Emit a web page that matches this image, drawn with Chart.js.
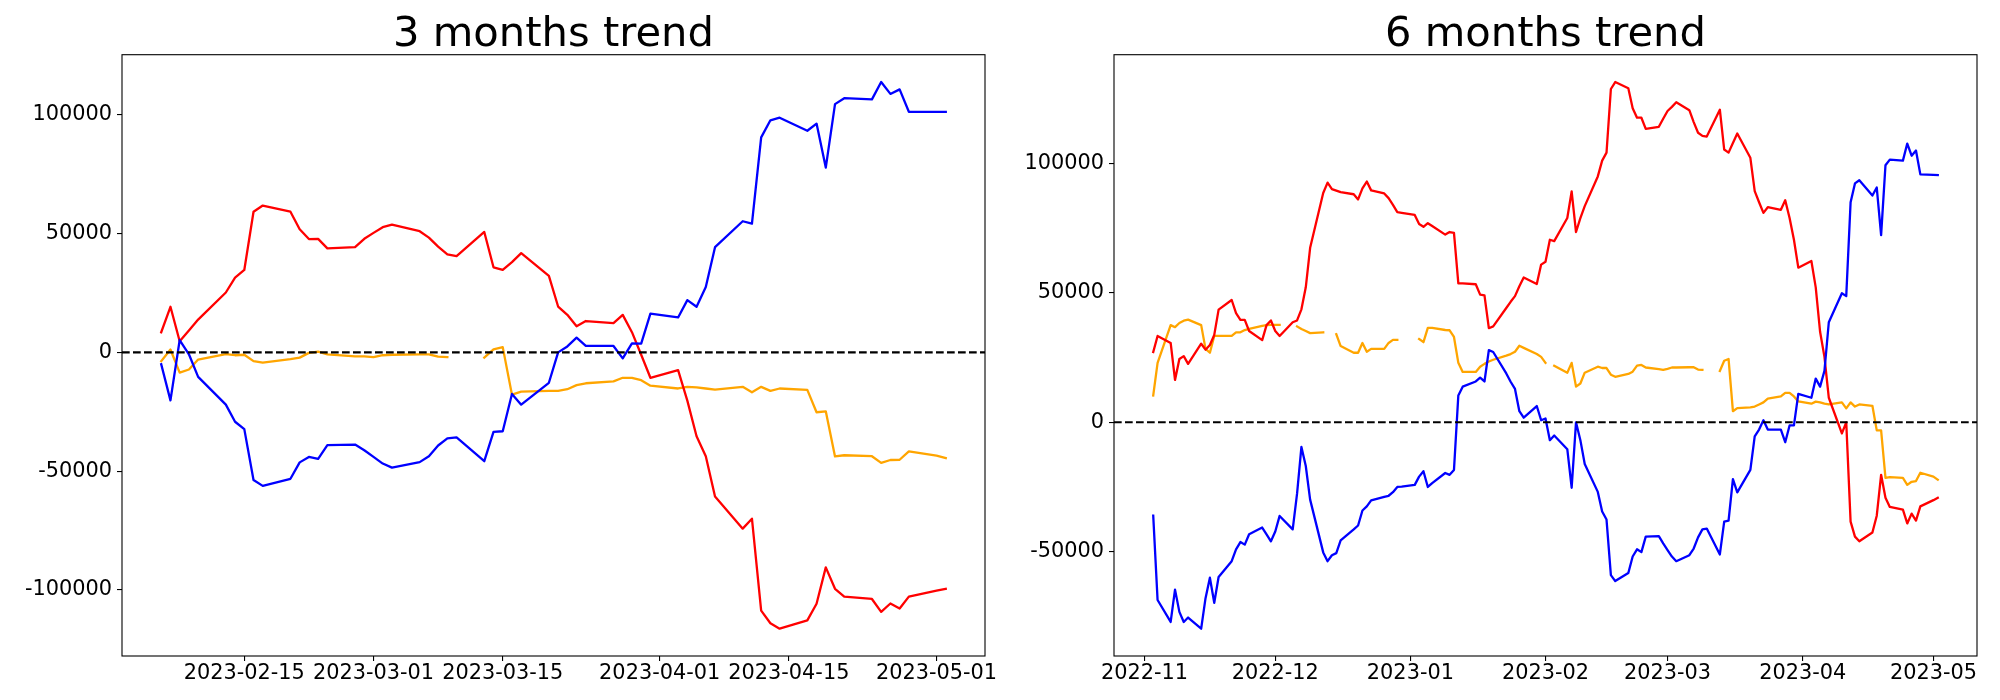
<!DOCTYPE html>
<html><head><meta charset="utf-8">
<script src="https://cdn.jsdelivr.net/npm/chart.js@4"></script>
<style>
html,body{margin:0;padding:0;background:#fff;}
#wrap{position:relative;width:2000px;height:700px;background:#fff;}
canvas{position:absolute;top:0;}
</style></head><body>
<div id="wrap"><canvas id="c1" width="1000" height="700" style="left:0px"></canvas><canvas id="c2" width="1000" height="700" style="left:1000px"></canvas></div>
<script>
// ---------- 3 months ----------
const dates3 = [
'2023-02-06','2023-02-07','2023-02-08','2023-02-09','2023-02-10','2023-02-13','2023-02-14','2023-02-15','2023-02-16','2023-02-17','2023-02-20','2023-02-21','2023-02-22','2023-02-23','2023-02-24','2023-02-27','2023-02-28',
'2023-03-01','2023-03-02','2023-03-03','2023-03-06','2023-03-07','2023-03-08','2023-03-09','2023-03-10','2023-03-13','2023-03-14','2023-03-15','2023-03-16','2023-03-17','2023-03-20','2023-03-21','2023-03-22','2023-03-23','2023-03-24','2023-03-27','2023-03-28','2023-03-29','2023-03-30','2023-03-31',
'2023-04-03','2023-04-04','2023-04-05','2023-04-06','2023-04-07','2023-04-10','2023-04-11','2023-04-12','2023-04-13','2023-04-14','2023-04-17','2023-04-18','2023-04-19','2023-04-20','2023-04-21','2023-04-24','2023-04-25','2023-04-26','2023-04-27','2023-04-28',
'2023-05-01','2023-05-02'];
const red3 = [
8500,19200,4700,9200,13800,25200,31500,34700,59200,61800,59200,51800,47700,47800,43800,44300,47800,
50300,52700,53800,51000,48300,44500,41300,40500,50700,35800,34700,38000,41800,32200,19300,15800,11000,13200,12300,15800,8500,-1000,-10700,
-7500,-20300,-35300,-43700,-60700,-74200,-70000,-108700,-114000,-116300,-112800,-105800,-90500,-99500,-102800,-103800,-109200,-105700,-107800,-102800,
-100300,-99500];
const blue3 = [
-5000,-20200,5200,-800,-10300,-22000,-29200,-32300,-53700,-56200,-53200,-46300,-44000,-44800,-39000,-38800,-41200,
-44000,-46800,-48500,-46200,-43700,-39200,-36200,-35800,-45800,-33500,-33200,-17500,-22000,-12800,0,2500,6200,2700,2700,-2500,3800,3700,16300,
14700,22000,19200,27500,44300,55200,54200,90500,97700,98800,93300,96300,77800,104500,107000,106500,113800,108800,110700,101300,
101200,101200];
const orange3 = [
-3700,1200,-8500,-7200,-3000,-700,-1200,-1000,-3700,-4300,-2800,-2200,-200,300,-800,-1700,-1700,
-2000,-1200,-1000,-800,-800,-1800,-2000,null,-2200,1300,2200,-17800,-16500,-16200,-16200,-15500,-13800,-13000,-12200,-10700,-10700,-11700,-14000,
-15200,-14500,-14700,-15200,-15700,-14500,-16800,-14500,-16200,-15200,-15800,-25200,-24800,-43800,-43300,-43700,-46500,-45300,-45200,-41700,
-43500,-44500];
const xTicks3 = ['2023-02-15','2023-03-01','2023-03-15','2023-04-01','2023-04-15','2023-05-01'];
const yTicks3 = [-100000,-50000,0,50000,100000];

// ---------- 6 months ----------
const dates6 = [
'2022-11-03','2022-11-04','2022-11-07','2022-11-08','2022-11-09','2022-11-10','2022-11-11','2022-11-14','2022-11-15','2022-11-16','2022-11-17','2022-11-18','2022-11-21','2022-11-22','2022-11-23','2022-11-24','2022-11-25','2022-11-28','2022-11-29','2022-11-30',
'2022-12-01','2022-12-02','2022-12-05','2022-12-06','2022-12-07','2022-12-08','2022-12-09','2022-12-12','2022-12-13','2022-12-14','2022-12-15','2022-12-16','2022-12-19','2022-12-20','2022-12-21','2022-12-22','2022-12-23','2022-12-26','2022-12-27','2022-12-28','2022-12-29','2022-12-30',
'2023-01-02','2023-01-03','2023-01-04','2023-01-05','2023-01-06','2023-01-09','2023-01-10','2023-01-11','2023-01-12','2023-01-13','2023-01-16','2023-01-17','2023-01-18','2023-01-19','2023-01-20','2023-01-23','2023-01-24','2023-01-25','2023-01-26','2023-01-27','2023-01-30','2023-01-31',
'2023-02-01','2023-02-02','2023-02-03','2023-02-06','2023-02-07','2023-02-08','2023-02-09','2023-02-10','2023-02-13','2023-02-14','2023-02-15','2023-02-16','2023-02-17','2023-02-20','2023-02-21','2023-02-22','2023-02-23','2023-02-24','2023-02-27','2023-02-28',
'2023-03-01','2023-03-02','2023-03-03','2023-03-06','2023-03-07','2023-03-08','2023-03-09','2023-03-10','2023-03-13','2023-03-14','2023-03-15','2023-03-16','2023-03-17','2023-03-20','2023-03-21','2023-03-22','2023-03-23','2023-03-24','2023-03-27','2023-03-28','2023-03-29','2023-03-30','2023-03-31',
'2023-04-03','2023-04-04','2023-04-05','2023-04-06','2023-04-07','2023-04-10','2023-04-11','2023-04-12','2023-04-13','2023-04-14','2023-04-17','2023-04-18','2023-04-19','2023-04-20','2023-04-21','2023-04-24','2023-04-25','2023-04-26','2023-04-27','2023-04-28',
'2023-05-01','2023-05-02'];
const red6 = [
27200,33400,30700,16400,24500,25600,22600,30400,28100,29900,33800,43600,47300,42200,39600,39600,35300,31800,37600,39400,
35300,33400,38700,39400,43700,52200,67500,88700,92700,90200,89600,89000,88200,86200,90500,93100,89700,88500,86700,84100,81300,81000,
80200,76700,75600,77000,75900,72600,73600,73300,53700,53700,53400,49400,49100,36400,37100,44200,46600,48800,52600,56000,53500,61000,
62100,70600,70100,79000,89300,73600,79000,83600,95100,101200,104300,128900,131600,129200,121500,117800,117800,113500,114300,117400,
120400,122000,123800,120700,116100,112000,110800,110500,120900,105500,104300,108000,111700,102300,89400,85100,81000,83200,82200,85900,79000,70600,59800,
62400,52200,35000,25300,9500,-4300,0,-38400,-44200,-46000,-42600,-36100,-20300,-29200,-32700,-33800,-39100,-35300,-38000,-32500,
-30100,-29200];
const blue6 = [
-36100,-68700,-77200,-64700,-73300,-77200,-75500,-79800,-68000,-60100,-69800,-59800,-53700,-49100,-46300,-47300,-43300,-40700,-43300,-46000,
-42200,-36200,-41400,-27600,-9500,-16900,-29900,-50300,-53700,-51400,-50600,-45700,-41400,-39900,-34100,-32500,-30200,-28800,-28400,-27000,-25000,-24900,
-24200,-21000,-18900,-25000,-23500,-19600,-20300,-18400,10400,13800,15800,17300,15800,27900,27200,18900,15700,12900,4300,1800,6300,800,
1500,-6900,-5100,-10400,-25300,0,-6900,-16100,-26900,-34500,-37600,-59100,-61400,-58300,-51900,-49100,-50200,-44200,-44000,-46800,
-49400,-51900,-53700,-51400,-48800,-44500,-41400,-41100,-51100,-38400,-38000,-22000,-27100,-18400,-5400,-2800,800,-2800,-2800,-7700,-1200,-1200,11000,
9500,16900,13800,19900,38700,49900,48800,85100,92400,93600,87700,90800,72400,99400,101600,101200,107800,103100,105100,95900,
95700,95600];
const orange6 = [
10400,23000,37600,36800,38400,39300,39700,37600,28400,26900,33400,33400,33400,34800,34800,35700,36100,37300,37600,37700,
37700,37700,null,37100,36100,35300,34500,34800,null,null,34100,29500,26900,26900,30700,27300,28400,28400,30700,31900,31900,null,
null,32200,31000,36500,36500,35700,35600,33000,23000,19500,19500,21500,22600,23500,24200,25800,26400,27300,29600,28800,26400,25300,
23000,null,21900,19200,23000,13800,15000,19200,21500,21000,21000,18400,17600,18700,19600,21900,22200,21200,20600,20300,
20700,21200,21200,21300,21300,20400,20300,null,19900,23800,24500,4300,5500,5800,6100,6900,7700,9200,10000,11400,11400,10000,8100,
7200,8000,7700,7200,6900,7700,5400,7700,6100,6900,6400,-3100,-3100,-21500,-21200,-21500,-24200,-23000,-22700,-19500,
-21000,-22200];
const xTicks6 = ['2022-11-01','2022-12-01','2023-01-01','2023-02-01','2023-03-01','2023-04-01','2023-05-01'];
const yTicks6 = [-50000,0,50000,100000];

// ---------- helpers ----------
const toDay = s => { const [y,m,d] = s.split('-').map(Number); return Date.UTC(y, m-1, d) / 86400000; };
const fmtDay = (v, n) => new Date(Math.round(v) * 86400000).toISOString().slice(0, n);
const fmtNum = v => String(v);
const FONT = "'DejaVu Sans', 'Liberation Sans', sans-serif";

const framePlugin = {
  id: 'frame',
  afterDatasetsDraw(chart) {
    const {ctx, chartArea: a, scales: {y}} = chart;
    ctx.save();
    const yy = y.getPixelForValue(0);
    ctx.beginPath();
    ctx.setLineDash([7.7, 3.3]);
    ctx.lineWidth = 2.08;
    ctx.strokeStyle = '#000';
    ctx.moveTo(a.left, yy); ctx.lineTo(a.right, yy);
    ctx.stroke();
    ctx.setLineDash([]);
    ctx.lineWidth = 1.1;
    ctx.strokeRect(a.left, a.top, a.right - a.left, a.bottom - a.top);
    // title centred over the axes box
    ctx.fillStyle = '#000';
    ctx.font = '41.67px ' + FONT;
    ctx.textAlign = 'center';
    ctx.textBaseline = 'alphabetic';
    ctx.fillText(chart.options.plugins.frame.title, (a.left + a.right) / 2, a.top - 8.5);
    ctx.restore();
  }
};

function makeChart(id, title, dates, red, blue, orange, xTicks, nChars, yTicks, areaLeft, padRight) {
  const xs = dates.map(toDay);
  const pts = vals => vals.map((v, i) => ({x: xs[i], y: v}));
  const allY = [].concat(red, blue, orange).filter(v => v !== null);
  const yMin = Math.min(...allY), yMax = Math.max(...allY);
  const yM = (yMax - yMin) * 0.05;
  const xMin = xs[0], xMax = xs[xs.length - 1];
  const xM = (xMax - xMin) * 0.05;
  const ds = (label, vals, color, order) => ({
    label, data: pts(vals), borderColor: color, backgroundColor: color,
    borderWidth: 2.3, pointRadius: 0, pointHoverRadius: 0, tension: 0,
    spanGaps: false, fill: false, order,
    borderJoinStyle: 'round', borderCapStyle: 'square'
  });
  return new Chart(document.getElementById(id), {
    type: 'line',
    data: { datasets: [
      ds('blue', blue, '#0000ff', 1),
      ds('red', red, '#ff0000', 2),
      ds('orange', orange, '#ffa500', 3)
    ]},
    options: {
      responsive: false, animation: false, devicePixelRatio: 1,
      layout: { padding: { left: 0, right: padRight, top: 54.7, bottom: 0 } },
      plugins: {
        legend: { display: false }, tooltip: { enabled: false },
        title: { display: false },
        frame: { title: title }
      },
      scales: {
        x: {
          type: 'linear', min: xMin - xM, max: xMax + xM,
          afterBuildTicks: s => { s.ticks = xTicks.map(t => ({value: toDay(t)})); },
          afterFit: s => { s.height = 44; },
          ticks: { autoSkip: false, maxRotation: 0, color: '#000', padding: 0,
            font: { family: FONT, size: 20.83 }, callback: v => fmtDay(v, nChars) },
          grid: { display: true, drawOnChartArea: false, drawTicks: true, tickLength: 5, color: '#000', lineWidth: 1.1 },
          border: { display: false }
        },
        y: {
          type: 'linear', min: yMin - yM, max: yMax + yM,
          afterBuildTicks: s => { s.ticks = yTicks.map(v => ({value: v})); },
          afterFit: s => { s.width = areaLeft; },
          ticks: { autoSkip: false, color: '#000', padding: 5,
            font: { family: FONT, size: 20.83 }, callback: v => fmtNum(v) },
          grid: { display: true, drawOnChartArea: false, drawTicks: true, tickLength: 5, color: '#000', lineWidth: 1.1 },
          border: { display: false }
        }
      }
    },
    plugins: [framePlugin]
  });
}

makeChart('c1', '3 months trend', dates3, red3, blue3, orange3, xTicks3, 10, yTicks3, 122, 15);
makeChart('c2', '6 months trend', dates6, red6, blue6, orange6, xTicks6, 7, yTicks6, 114, 23);
</script>
</body></html>
